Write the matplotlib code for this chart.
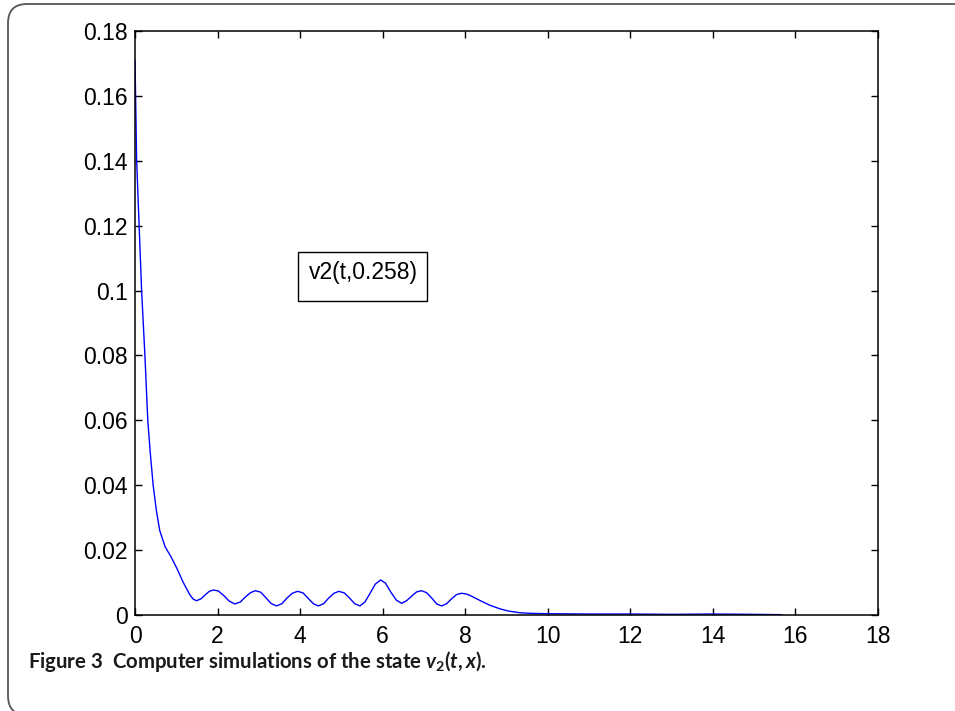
"""Figure 3: computer simulation of the state v2(t, x) at x = 0.258."""

import matplotlib
matplotlib.use("Agg")
import matplotlib.pyplot as plt
from matplotlib.patches import Rectangle, FancyBboxPatch
from matplotlib.ticker import FuncFormatter

# values
t = [0.00, 0.04, 0.10, 0.16, 0.24, 0.31, 0.37, 0.44, 0.52, 0.60,
     0.73, 0.87, 1.01, 1.17, 1.33, 1.41, 1.49, 1.60, 1.70, 1.80,
     1.90, 2.02, 2.15, 2.28, 2.42, 2.55, 2.67, 2.80, 2.92, 3.05,
     3.18, 3.30, 3.43, 3.56, 3.68, 3.81, 3.94, 4.07, 4.19, 4.32,
     4.44, 4.57, 4.69, 4.82, 4.94, 5.07, 5.20, 5.32, 5.45, 5.57,
     5.70, 5.82, 5.95, 6.07, 6.20, 6.33, 6.46, 6.58, 6.70, 6.82,
     6.94, 7.06, 7.19, 7.31, 7.43, 7.55, 7.67, 7.79, 7.91, 8.05,
     8.20, 8.40, 8.60, 8.84, 9.05, 9.32, 9.60, 10.0, 11.0, 12.0,
     13.0, 14.0, 15.0, 15.66]
v2 = [0.171, 0.140, 0.120, 0.100, 0.080, 0.060, 0.050, 0.040, 0.032, 0.026,
      0.021, 0.018, 0.0145, 0.010, 0.0062, 0.0049, 0.0044, 0.0050, 0.0062, 0.0073,
      0.0077, 0.0074, 0.0060, 0.0043, 0.0034, 0.0040, 0.0055, 0.0069, 0.0075, 0.0070,
      0.0052, 0.0035, 0.0028, 0.0035, 0.0052, 0.0067, 0.0073, 0.0068, 0.0052, 0.0035,
      0.0028, 0.0035, 0.0052, 0.0067, 0.0073, 0.0068, 0.0052, 0.0035, 0.0028, 0.0040,
      0.0068, 0.0095, 0.0108, 0.0098, 0.0070, 0.0046, 0.0036, 0.0044, 0.0058, 0.0071,
      0.0075, 0.0069, 0.0052, 0.0034, 0.0028, 0.0035, 0.0050, 0.0063, 0.0067, 0.0064,
      0.0055, 0.0042, 0.0030, 0.0019, 0.0012, 0.0007, 0.0005, 0.0004, 0.0003, 0.0003,
      0.0002, 0.0003, 0.0002, 0.0001]

x_ticks = [0, 2, 4, 6, 8, 10, 12, 14, 16, 18]
y_ticks = [0, 0.02, 0.04, 0.06, 0.08, 0.10, 0.12, 0.14, 0.16, 0.18]

LABEL = "v2(t,0.258)"
CAPTION = "Figure 3  Computer simulations of the state $v_2(t,x)$."

plt.rcParams.update({
    "font.family": ["Liberation Sans", "DejaVu Sans"],
    "font.size": 16.5,
    "axes.linewidth": 1.1,
    "xtick.direction": "in",
    "ytick.direction": "in",
    "xtick.major.size": 5,
    "ytick.major.size": 5,
    "xtick.major.width": 1.0,
    "ytick.major.width": 1.0,
    # caption maths in the caption's bold face
    "mathtext.fontset": "custom",
    "mathtext.rm": "Lato:bold",
    "mathtext.it": "Lato:bold:italic",
    "mathtext.bf": "Lato:bold",
})

fig = plt.figure(figsize=(9.55, 7.11), dpi=100)

# rounded outer frame of the journal figure (right and bottom run off the page)
frame = FancyBboxPatch((8 / 955, -4 / 711), 1.2, 1.0,
                       boxstyle="round,pad=0,rounding_size=0.02",
                       transform=fig.transFigure, facecolor="none",
                       edgecolor="#555555", linewidth=1.3, clip_on=False,
                       mutation_aspect=955 / 711)
fig.patches.append(frame)

ax = fig.add_axes([135 / 955, 96 / 711, 743 / 955, 584 / 711])
ax.plot(t, v2, color="#0000ff", linewidth=1.0)

ax.set_xlim(0, 18)
ax.set_ylim(0, 0.18)
ax.set_xticks(x_ticks)
ax.set_yticks(y_ticks)
ax.yaxis.set_major_formatter(FuncFormatter(lambda val, pos: f"{val:g}"))
ax.tick_params(top=True, right=True, labelsize=16.5)
ax.tick_params(axis="x", pad=7)
ax.tick_params(axis="y", pad=5)

# MATLAB-style boxed label
ax.add_patch(Rectangle((0.2194, 0.5377), 0.1736, 0.0839, transform=ax.transAxes,
                       facecolor="white", edgecolor="black", linewidth=1.0))
ax.text(0.3069, 0.587, LABEL, transform=ax.transAxes, ha="center", va="center",
        fontsize=16.5)

fig.text(28 / 955, 1 - 661 / 711, CAPTION, ha="left", va="center",
         fontsize=14.7, fontweight="bold", family=["Lato", "DejaVu Sans"],
         color="#1a1a1a")

fig.savefig("out.png", dpi=100)
